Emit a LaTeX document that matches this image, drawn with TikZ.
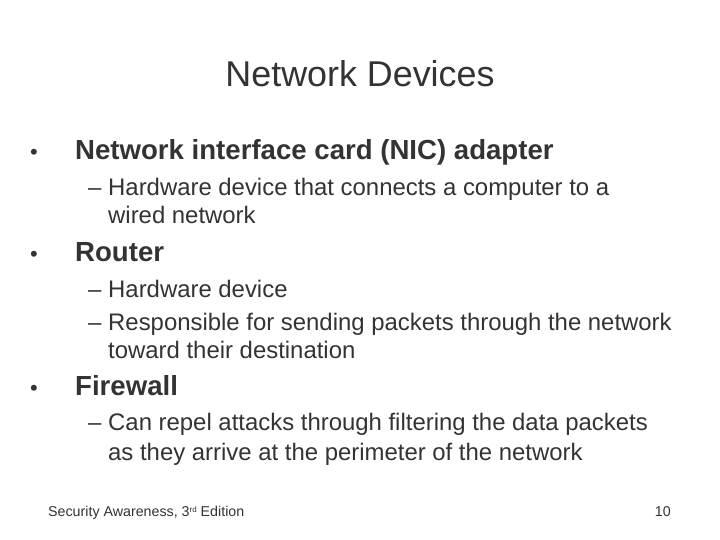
\documentclass[tikz,border=0pt]{standalone}
\usepackage{fontspec}
\setmainfont{Liberation Sans}
\begin{document}
\begin{tikzpicture}[x=1bp,y=-1bp,
  txt/.style={anchor=base west,inner sep=0pt,text=black!80},
  b/.style={txt,font=\fontsize{27.7}{32}\selectfont\bfseries},
  s/.style={txt,font=\fontsize{24}{28}\selectfont}]
\useasboundingbox[fill=white] (0,0) rectangle (720,540);
\node[txt,anchor=base,font=\fontsize{36}{40}\selectfont] (title) at (360,87) {Network Devices};
\node[txt,font=\fontsize{22}{26}\selectfont] (d1) at (30,160) {•}; \node[b] (b1) at (75,160) {Network interface card (NIC) adapter};
\node[s] (e1) at (88,196) {–}; \node[s] (s1) at (108,196) {Hardware device that connects a computer to a};
\node[s] (s1b) at (108,224) {wired network};
\node[txt,font=\fontsize{22}{26}\selectfont] (d2) at (30,262) {•}; \node[b] (b2) at (75,262) {Router};
\node[s] (e2) at (88,297) {–}; \node[s] (s2) at (108,297) {Hardware device};
\node[s] (e3) at (88,330) {–}; \node[s] (s3) at (108,330) {Responsible for sending packets through the network};
\node[s] (s3b) at (108,358) {toward their destination};
\node[txt,font=\fontsize{22}{26}\selectfont] (d3) at (30,395) {•}; \node[b] (b3) at (75,395) {Firewall};
\node[s] (e4) at (88,430) {–}; \node[s] (s4) at (108,430) {Can repel attacks through filtering the data packets};
\node[s] (s4b) at (108,460) {as they arrive at the perimeter of the network};
\node[txt,font=\fontsize{14.3}{16}\selectfont] (foot) at (48,516) {Security Awareness, 3\raisebox{0.5ex}{\fontsize{8}{9}\selectfont rd} Edition};
\node[txt,anchor=base east,font=\fontsize{14.3}{16}\selectfont] (pg) at (671,516) {10};
\end{tikzpicture}
\end{document}
